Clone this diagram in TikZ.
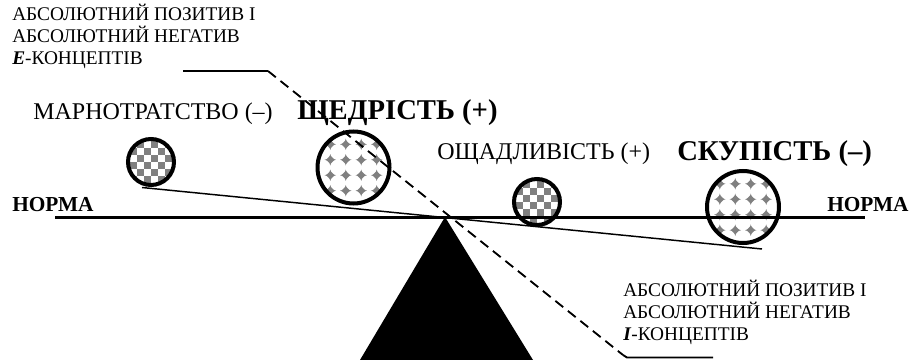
\documentclass[tikz,border=0pt]{standalone}
\usepackage{fontspec}
\setmainfont{Liberation Serif}
\usepackage{xcolor}
\usepackage{tikz}
\usetikzlibrary{positioning,calc}
\definecolor{cellgray}{RGB}{128,128,128}

% gray fillings for the balls (used inside path picture)
\newcommand{\checkcells}{%
  \foreach \i in {-2,...,1}{\foreach \j in {-2,...,1}{%
    \fill[cellgray] ([shift={({2*\i*5.25pt},{2*\j*5.25pt})}]path picture bounding box.center) rectangle ++(5.25pt,5.25pt);
    \fill[cellgray] ([shift={({(2*\i+1)*5.25pt},{(2*\j+1)*5.25pt})}]path picture bounding box.center) rectangle ++(5.25pt,5.25pt);
  }}}
\newcommand{\diamondcells}{%
  \foreach \i in {-3,...,2}{\foreach \j in {-3,...,2}{%
    \fill[cellgray] ([shift={({(\i+0.5)*11.6pt},{(\j+0.5)*11.6pt})}]path picture bounding box.center)
      +(0,4.3pt) -- +(1pt,1pt) -- +(4.3pt,0) -- +(1pt,-1pt) -- +(0,-4.3pt) -- +(-1pt,-1pt) -- +(-4.3pt,0) -- +(-1pt,1pt) -- cycle;
    \fill[cellgray] ([shift={({(\i+0.5)*11.6pt},{(\j+0.5)*11.6pt})}]path picture bounding box.center)
      +(0,3.2pt) -- +(3.2pt,0) -- +(0,-3.2pt) -- +(-3.2pt,0) -- cycle;
  }}}

\begin{document}
\begin{tikzpicture}[
    x=0.75pt, y=-0.75pt,
    note/.style={anchor=north west, inner sep=0pt, align=left, font=\fontsize{14.5}{16.3}\selectfont},
    mildtext/.style={anchor=base west, inner sep=0pt, font=\fontsize{18}{21}\selectfont},
    strongtext/.style={anchor=base west, inner sep=0pt, font=\bfseries\fontsize{21.5}{24}\selectfont},
    normtext/.style={anchor=base west, inner sep=0pt, font=\bfseries\fontsize{16}{19}\selectfont},
    chkball/.style={circle, draw, line width=3pt, minimum size=34.5pt, inner sep=0pt, path picture={\checkcells}},
    dmdball/.style={circle, draw, line width=3pt, minimum size=54pt, inner sep=0pt, path picture={\diamondcells}},
    normline/.style={line width=2.25pt},
    beam/.style={line width=1.1pt},
    leader/.style={line width=1.4pt},
    leaderdash/.style={leader, dash pattern=on 7.5pt off 4.5pt}
]
    \useasboundingbox (0,0) rectangle (911,360);

    % annotations
    \node[note] (enote) at (12,4) {АБСОЛЮТНИЙ ПОЗИТИВ І\\АБСОЛЮТНИЙ НЕГАТИВ\\\textbf{\textit{E}}-КОНЦЕПТІВ};
    \node[note] (inote) at (623,280) {АБСОЛЮТНИЙ ПОЗИТИВ І\\АБСОЛЮТНИЙ НЕГАТИВ\\\textbf{\textit{I}}-КОНЦЕПТІВ};

    % concept labels
    \node[mildtext] (marn) at (33,119) {МАРНОТРАТСТВО (–)};
    \node[strongtext] (shched) at (297,120) {ЩЕДРІСТЬ (+)};
    \node[mildtext] (oshch) at (437,160) {ОЩАДЛИВІСТЬ (+)};
    \node[strongtext] (skup) at (677,161) {СКУПІСТЬ (–)};
    \node[normtext] (normL) at (12,211) {НОРМА};
    \node[normtext] (normR) at (827,211) {НОРМА};

    % balls
    \node[chkball] (marnball) at (151,162) {};
    \node[dmdball] (shchedball) at (353.5,167.5) {};
    \node[chkball] (oshchball) at (537,202) {};
    \node[dmdball] (skupball) at (743,207) {};

    % scales
    \coordinate (apex) at (445,217);
    \coordinate (baseL) at (360,360);
    \coordinate (baseR) at (533,360);
    \coordinate (lineL) at (55,217);
    \coordinate (lineR) at (865,217);
    \coordinate (beamL) at (142,187.5);
    \coordinate (beamR) at (762,249);

    \fill (apex) -- (baseL) -- (baseR) -- cycle;
    \draw[normline] (lineL) -- (lineR);
    \draw[beam] (beamL) -- (beamR);

    % leader line
    \coordinate (eL) at (183,71);
    \coordinate (eK) at (268,71);
    \coordinate (iK) at (623,355);
    \coordinate (iC) at (627,357.5);
    \coordinate (iR) at (713,357.5);
    \draw[leader] (eL) -- (eK);
    \draw[leaderdash] (eK) -- (iK);
    \draw[leader] (iK) -- (iC) -- (iR);
\end{tikzpicture}
\end{document}
